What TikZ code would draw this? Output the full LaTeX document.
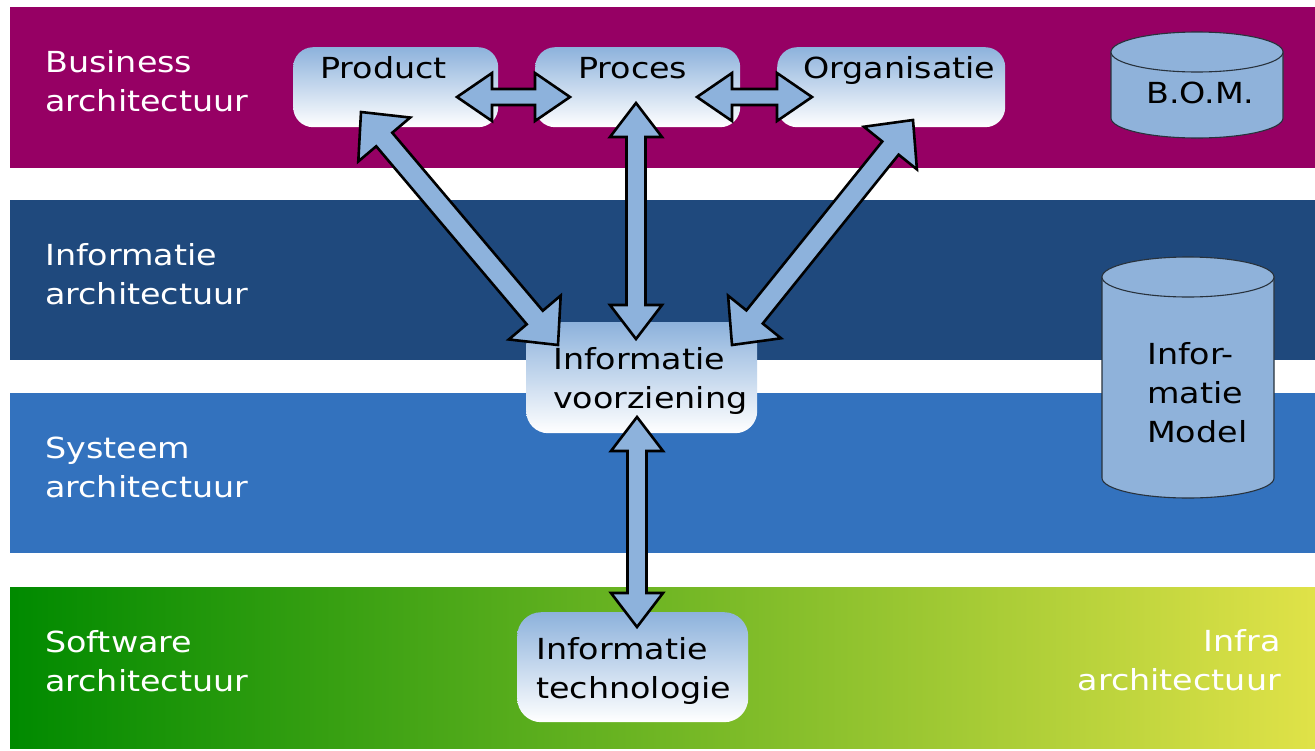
\documentclass[tikz,border=0pt]{standalone}
\usepackage{fontspec}
\setmainfont{DejaVu Sans}[FakeStretch=1.15]
\usetikzlibrary{calc}
\definecolor{busc}{RGB}{150,0,100}
\definecolor{infc}{RGB}{31,73,125}
\definecolor{sysc}{RGB}{51,114,190}
\definecolor{swl}{RGB}{0,138,0}
\definecolor{swr}{RGB}{224,226,72}
\definecolor{boxblue}{RGB}{141,178,220}
\definecolor{cylblue}{RGB}{143,178,218}
\definecolor{cylline}{RGB}{40,50,60}
\newcommand\dblarrow[5]{%
  \filldraw[arrowst] (#1)
    -- ($(#1)!#5!(#2)!#4!90:(#2)$) -- ($(#1)!#5!(#2)!#3!90:(#2)$)
    -- ($(#2)!#5!(#1)!#3!-90:(#1)$) -- ($(#2)!#5!(#1)!#4!-90:(#1)$)
    -- (#2)
    -- ($(#2)!#5!(#1)!#4!90:(#1)$) -- ($(#2)!#5!(#1)!#3!90:(#1)$)
    -- ($(#1)!#5!(#2)!#3!-90:(#2)$) -- ($(#1)!#5!(#2)!#4!-90:(#2)$)
    -- cycle;}
\newcommand\cyl[5]{% left, right, top-center y, bottom-center y, ry
  \filldraw[cylst] (#1,#3) -- (#1,#4)
    arc[start angle=180, end angle=0, x radius={(#2-#1)/2}, y radius=#5]
    -- (#2,#3) -- cycle;
  \filldraw[cylst] ({(#1+#2)/2},#3) ellipse[x radius={(#2-#1)/2}, y radius=#5];}
\begin{document}
\begin{tikzpicture}[x=1pt,y=-1pt,
  bbox/.style={rounded corners=20pt, top color=boxblue, bottom color=white, draw=none, inner sep=0pt, anchor=north west},
  arrowst/.style={fill=boxblue, draw=black, line width=2.6pt, line join=miter},
  cylst/.style={fill=cylblue, draw=cylline, line width=1.1pt},
  wlbl/.style={text=white, font=\fontsize{29}{39}\selectfont, inner sep=0pt, align=left, anchor=base west},
  blbl/.style={text=black, font=\fontsize{29}{39}\selectfont, inner sep=0pt, align=left, anchor=base west}]
\useasboundingbox (0,0) rectangle (1315,750);
\fill[white] (0,0) rectangle (1315,750);
% bands
\fill[busc] (10,7) rectangle (1315,168);
\fill[infc] (10,200) rectangle (1315,360);
\fill[sysc] (10,393) rectangle (1315,553);
\shade[left color=swl, right color=swr] (10,587) rectangle (1315,748);
% boxes
\node[bbox, minimum width=205pt, minimum height=80pt] (product) at (293,47) {};
\node[bbox, minimum width=205pt, minimum height=80pt] (proces) at (535,47) {};
\node[bbox, minimum width=228pt, minimum height=80pt] (organisatie) at (777,47) {};
\node[bbox, minimum width=231pt, minimum height=111pt, rounded corners=22pt] (iv) at (526,322) {};
\node[bbox, minimum width=231pt, minimum height=110pt, rounded corners=24pt] (it) at (517,612) {};
% cylinders
\cyl{1111}{1283}{52}{118}{20}
\cyl{1102}{1274}{277}{478}{20}
% arrow end points
\coordinate (a1) at (457,97);  \coordinate (b1) at (570,97);
\coordinate (a2) at (697,97);  \coordinate (b2) at (812,97);
\coordinate (a3) at (361,112); \coordinate (b3) at (558,345);
\coordinate (a4) at (636,103); \coordinate (b4) at (636,339);
\coordinate (a5) at (913,120); \coordinate (b5) at (732,345);
\coordinate (a6) at (637,417); \coordinate (b6) at (637,627);
\dblarrow{a1}{b1}{8pt}{24pt}{35pt}
\dblarrow{a2}{b2}{8pt}{24pt}{35pt}
\dblarrow{a3}{b3}{10.5pt}{34pt}{36pt}
\dblarrow{a4}{b4}{9.5pt}{26pt}{34pt}
\dblarrow{a5}{b5}{10.5pt}{34pt}{36pt}
\dblarrow{a6}{b6}{9.5pt}{26pt}{34pt}
% layer labels (anchor at baseline of last line)
\node[wlbl] (lbus) at (45,111) {Business\\architectuur};
\node[wlbl] (linf) at (45,304) {Informatie\\architectuur};
\node[wlbl] (lsys) at (45,497) {Systeem\\architectuur};
\node[wlbl] (lsw) at (45,691) {Software\\architectuur};
\node[wlbl, align=right, anchor=base east] (linfra) at (1281,690) {Infra\\architectuur};
% box texts
\node[blbl] (tproduct) at (320,78) {Product};
\node[blbl] (tproces) at (578,78) {Proces};
\node[blbl] (torg) at (803,78) {Organisatie};
\node[blbl] (tiv) at (553,408) {Informatie\\voorziening};
\node[blbl] (tit) at (536,698) {Informatie\\technologie};
\node[blbl] (tbom) at (1146,103) {B.O.M.};
\node[blbl] (tim) at (1147,442) {Infor-\\matie\\Model};
\end{tikzpicture}
\end{document}
